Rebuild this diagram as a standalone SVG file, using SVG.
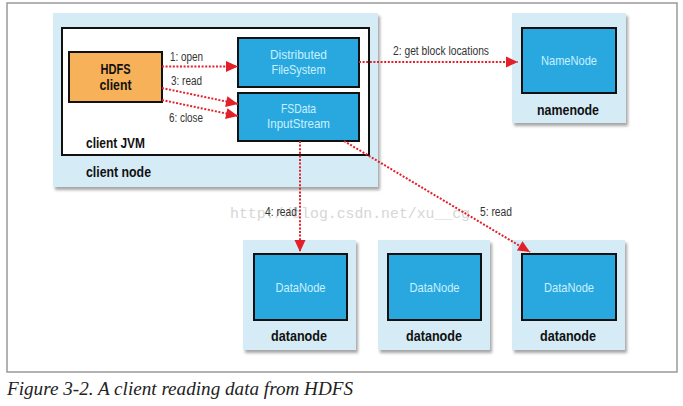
<svg xmlns="http://www.w3.org/2000/svg" width="683" height="406" viewBox="0 0 683 406">
<style>
.outer{fill:#d5ecf7;filter:url(#sh)}
.inner{fill:#29a8e0;stroke:#111;stroke-width:2}
.lt{font-family:"Liberation Sans",Arial,sans-serif;font-size:13px;fill:#c9f1ff;text-anchor:middle}
.bd{font-family:"Liberation Sans",Arial,sans-serif;font-size:14px;font-weight:bold;fill:#111}
.lb{font-family:"Liberation Sans",Arial,sans-serif;font-size:12px;fill:#333}
.cn{fill:none;stroke:#e3202a;stroke-width:2;stroke-dasharray:2 1.6}
</style>
<defs>
<filter id="sh" x="-10%" y="-10%" width="125%" height="130%">
<feDropShadow dx="2" dy="3" stdDeviation="1.5" flood-color="#000" flood-opacity="0.35"/>
</filter>
<marker id="ah" markerUnits="userSpaceOnUse" markerWidth="14" markerHeight="14" viewBox="0 0 14 14" refX="13" refY="7" orient="auto">
<path d="M1,1.5 L13,7 L1,12.5 Z" fill="#e3202a"/>
</marker>
</defs>
<rect x="0" y="0" width="683" height="406" fill="#fff"/>
<rect x="7" y="3" width="670" height="369" fill="#fff" stroke="#999" stroke-width="1.5"/>
<text x="230" y="218" font-family="Liberation Mono,monospace" font-size="14.5px" fill="#d6d6d6" textLength="240" lengthAdjust="spacingAndGlyphs">http://blog.csdn.net/xu__cg</text>

<g id="client-node">
<rect class="outer" x="53" y="13" width="325" height="174"/>
<rect x="62" y="28" width="307" height="127" fill="#fff" stroke="#111" stroke-width="2"/>
<text class="bd" x="86" y="148" textLength="59" lengthAdjust="spacingAndGlyphs">client JVM</text>
<text class="bd" x="86" y="177" textLength="65" lengthAdjust="spacingAndGlyphs">client node</text>
</g>
<g id="hdfs-client">
<rect x="69" y="52" width="93" height="50" fill="#f7b259" stroke="#111" stroke-width="2"/>
<text class="bd" x="115.5" y="74" text-anchor="middle" textLength="30" lengthAdjust="spacingAndGlyphs">HDFS</text>
<text class="bd" x="115.5" y="90" text-anchor="middle" textLength="32" lengthAdjust="spacingAndGlyphs">client</text>
</g>
<g id="distributed-filesystem">
<rect class="inner" x="238" y="38" width="121" height="49"/>
<text class="lt" x="298.5" y="59" textLength="57" lengthAdjust="spacingAndGlyphs">Distributed</text>
<text class="lt" x="298.5" y="74" textLength="54" lengthAdjust="spacingAndGlyphs">FileSystem</text>
</g>
<g id="fsdata-inputstream">
<rect class="inner" x="238" y="93" width="121" height="48"/>
<text class="lt" x="298.5" y="113" textLength="35" lengthAdjust="spacingAndGlyphs">FSData</text>
<text class="lt" x="298.5" y="128" textLength="63" lengthAdjust="spacingAndGlyphs">InputStream</text>
</g>
<g id="namenode">
<rect class="outer" x="512" y="13" width="114" height="110"/>
<rect class="inner" x="522" y="28" width="94" height="65"/>
<text class="lt" x="569" y="65" textLength="56" lengthAdjust="spacingAndGlyphs">NameNode</text>
<text class="bd" x="568" y="115" text-anchor="middle" textLength="62" lengthAdjust="spacingAndGlyphs">namenode</text>
</g>
<g id="datanode1">
<rect class="outer" x="243" y="240" width="113" height="110"/>
<rect class="inner" x="254" y="254" width="93" height="66"/>
<text class="lt" x="300.5" y="292" textLength="50" lengthAdjust="spacingAndGlyphs">DataNode</text>
<text class="bd" x="299" y="341" text-anchor="middle" textLength="56" lengthAdjust="spacingAndGlyphs">datanode</text>
</g>
<g id="datanode2">
<rect class="outer" x="378" y="240" width="112" height="110"/>
<rect class="inner" x="388" y="254" width="93" height="66"/>
<text class="lt" x="434.5" y="292" textLength="50" lengthAdjust="spacingAndGlyphs">DataNode</text>
<text class="bd" x="434" y="341" text-anchor="middle" textLength="56" lengthAdjust="spacingAndGlyphs">datanode</text>
</g>
<g id="datanode3">
<rect class="outer" x="512" y="240" width="113" height="110"/>
<rect class="inner" x="522" y="254" width="94" height="66"/>
<text class="lt" x="569" y="292" textLength="50" lengthAdjust="spacingAndGlyphs">DataNode</text>
<text class="bd" x="568" y="341" text-anchor="middle" textLength="56" lengthAdjust="spacingAndGlyphs">datanode</text>
</g>

<g id="connectors">
<path class="cn" d="M162,66.5 L238,66.5" marker-end="url(#ah)"/>
<path class="cn" d="M162,88 L238,104" marker-end="url(#ah)"/>
<path class="cn" d="M162,100 L238,116" marker-end="url(#ah)"/>
<path class="cn" d="M359,62 L518,62" marker-end="url(#ah)"/>
<path class="cn" d="M300,141 L300,252" marker-end="url(#ah)"/>
<path class="cn" d="M344,141 L530,252" marker-end="url(#ah)"/>
<text class="lb" x="170" y="61" textLength="33" lengthAdjust="spacingAndGlyphs">1: open</text>
<text class="lb" x="171" y="85" textLength="31" lengthAdjust="spacingAndGlyphs">3: read</text>
<text class="lb" x="169" y="122" textLength="34" lengthAdjust="spacingAndGlyphs">6: close</text>
<text class="lb" x="393" y="55" textLength="96" lengthAdjust="spacingAndGlyphs">2: get block locations</text>
<text class="lb" x="265" y="216" textLength="32" lengthAdjust="spacingAndGlyphs">4: read</text>
<text class="lb" x="480" y="216" textLength="32" lengthAdjust="spacingAndGlyphs">5: read</text>
</g>
<text x="7" y="395" font-family="Liberation Serif,'Times New Roman',serif" font-style="italic" font-size="19px" fill="#222" textLength="346" lengthAdjust="spacingAndGlyphs">Figure 3-2. A client reading data from HDFS</text>
</svg>
